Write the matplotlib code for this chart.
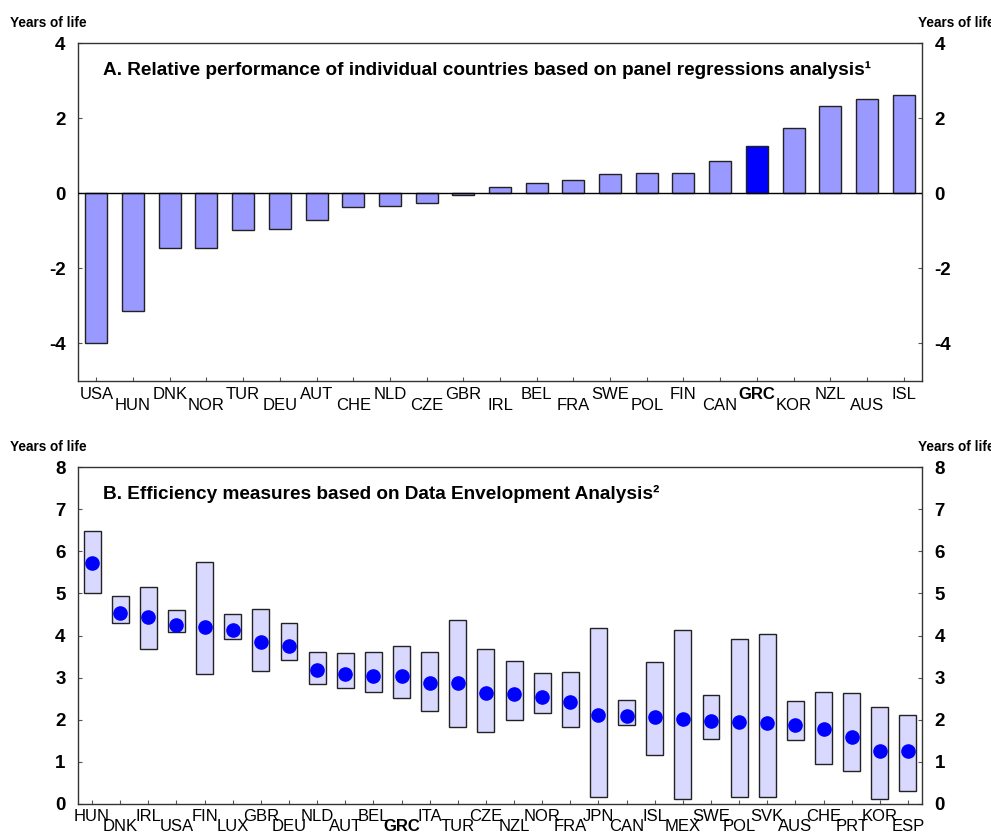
# health efficiency charts: panel A bars, panel B ranges

from matplotlib import pyplot as plt
import numpy as np

plt.rcParams['font.family'] = ['Liberation Sans', 'DejaVu Sans']

# panel A data
countries_a = ['USA', 'HUN', 'DNK', 'NOR', 'TUR', 'DEU', 'AUT', 'CHE', 'NLD', 'CZE', 'GBR', 'IRL',
               'BEL', 'FRA', 'SWE', 'POL', 'FIN', 'CAN', 'GRC', 'KOR', 'NZL', 'AUS', 'ISL']
perf_a = [-4.0, -3.14, -1.47, -1.46, -0.99, -0.96, -0.70, -0.36, -0.35, -0.27, -0.04, 0.16,
          0.27, 0.36, 0.50, 0.53, 0.54, 0.87, 1.27, 1.75, 2.32, 2.52, 2.62]

# panel B data
countries_b = ['HUN', 'DNK', 'IRL', 'USA', 'FIN', 'LUX', 'GBR', 'DEU', 'NLD', 'AUT', 'BEL', 'GRC',
               'ITA', 'TUR', 'CZE', 'NZL', 'NOR', 'FRA', 'JPN', 'CAN', 'ISL', 'MEX', 'SWE', 'POL',
               'SVK', 'AUS', 'CHE', 'PRT', 'KOR', 'ESP']
low_b = [5.01, 4.29, 3.68, 4.08, 3.09, 3.92, 3.15, 3.41, 2.85, 2.76, 2.65, 2.51,
         2.21, 1.83, 1.71, 1.99, 2.17, 1.83, 0.16, 1.88, 1.16, 0.13, 1.54, 0.17,
         0.16, 1.51, 0.96, 0.78, 0.13, 0.31]
high_b = [6.48, 4.93, 5.15, 4.60, 5.74, 4.52, 4.62, 4.29, 3.62, 3.59, 3.60, 3.74,
          3.62, 4.37, 3.67, 3.39, 3.11, 3.14, 4.17, 2.48, 3.36, 4.12, 2.58, 3.91,
          4.04, 2.44, 2.66, 2.64, 2.31, 2.12]
mid_b = [5.72, 4.53, 4.45, 4.26, 4.19, 4.13, 3.84, 3.75, 3.17, 3.09, 3.04, 3.03,
         2.88, 2.87, 2.64, 2.60, 2.55, 2.43, 2.11, 2.09, 2.06, 2.02, 1.98, 1.95,
         1.92, 1.88, 1.79, 1.59, 1.26, 1.26]

W, H = 991, 834
fig = plt.figure(figsize=(W / 100, H / 100), dpi=100)


def setup_axes(ax, labels, ylo, yhi, yticks, offs):
    n = len(labels)
    ax.set_xlim(-0.5, n - 0.5)
    ax.set_ylim(ylo, yhi)
    ax.set_yticks(yticks)
    ax.set_yticklabels([str(t) for t in yticks], fontsize=13.5, fontweight='bold')
    ax.tick_params(axis='y', direction='in', length=3, color='#555555', pad=9,
                   left=True, right=True, labelleft=True, labelright=True)
    ax.set_xticks(np.arange(n))
    ax.set_xticklabels([])
    ax.tick_params(axis='x', direction='in', length=3, color='#555555')
    for sp in ax.spines.values():
        sp.set_color('#333333')
        sp.set_linewidth(1)
    # alternating country labels
    for i, lab in enumerate(labels):
        off = offs[i % 2]
        w = 'bold' if lab == 'GRC' else 'normal'
        ax.annotate(lab, (i, 0), xycoords=('data', 'axes fraction'),
                    xytext=(0, off), textcoords='offset points',
                    ha='center', va='top', fontsize=12, fontweight=w)


# panel A
ax1 = fig.add_axes([78 / W, 1 - 381 / H, 844 / W, 338 / H])
x = np.arange(len(countries_a))
colors = ['#0000FF' if c == 'GRC' else '#9999FF' for c in countries_a]
ax1.bar(x, perf_a, width=0.6, color=colors, edgecolor='#222222', linewidth=1, zorder=2)
ax1.axhline(0, color='black', linewidth=1, zorder=3)
setup_axes(ax1, countries_a, -5, 4, [-4, -2, 0, 2, 4], (-4, -12.5))
ax1.text(0.03, 0.92, 'A. Relative performance of individual countries based on panel regressions analysis\u00b9',
         transform=ax1.transAxes, fontsize=13.7, fontweight='bold', va='center')
fig.text(10 / W, 1 - 23 / H, 'Years of life', fontsize=9.8, fontweight='bold', va='center')
fig.text(918 / W, 1 - 23 / H, 'Years of life', fontsize=9.8, fontweight='bold', va='center')

# panel B
ax2 = fig.add_axes([78 / W, 1 - 804 / H, 844 / W, 337 / H])
xb = np.arange(len(countries_b))
ax2.bar(xb, np.array(high_b) - np.array(low_b), bottom=low_b, width=0.6,
        color='#D9D9FF', edgecolor='#222222', linewidth=1, zorder=2)
ax2.plot(xb, mid_b, 'o', color='#0000FF', markersize=9.5, zorder=3)
setup_axes(ax2, countries_b, 0, 8, list(range(0, 9)), (-3.5, -11))
ax2.text(0.03, 0.92, 'B. Efficiency measures based on Data Envelopment Analysis\u00b2',
         transform=ax2.transAxes, fontsize=13.7, fontweight='bold', va='center')
fig.text(10 / W, 1 - 447 / H, 'Years of life', fontsize=9.8, fontweight='bold', va='center')
fig.text(918 / W, 1 - 447 / H, 'Years of life', fontsize=9.8, fontweight='bold', va='center')

fig.savefig('out.png', dpi=100)
